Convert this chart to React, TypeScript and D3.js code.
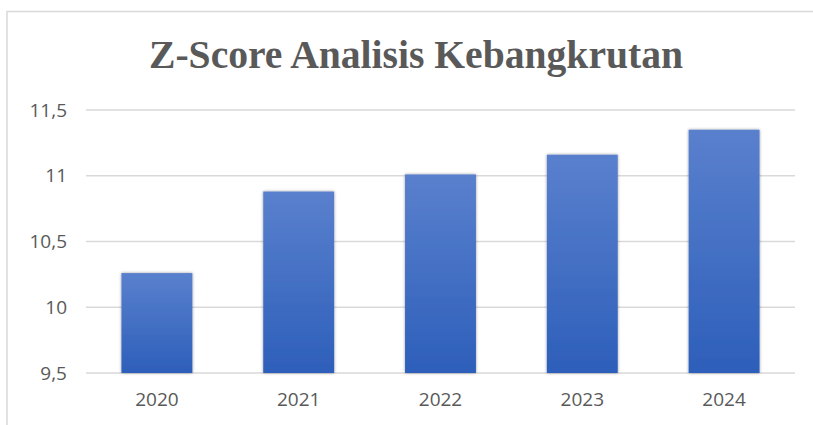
import { useEffect, useRef } from 'react';
import * as d3 from 'd3';

// data
const YEARS = ['2020', '2021', '2022', '2023', '2024'];
const ZSCORE = [10.26, 10.88, 11.01, 11.16, 11.35];
const Y_TICKS = [9.5, 10, 10.5, 11, 11.5];
const TITLE = 'Z-Score Analisis Kebangkrutan';

const W = 813, H = 425;
const margin = { top: 110, right: 18, bottom: 52, left: 86 };
const LABEL_FONT = '"Open Sans", "Liberation Sans", sans-serif';

export default function App() {
  const svgRef = useRef<SVGSVGElement | null>(null);

  useEffect(() => {
    if (!svgRef.current) return;
    const svg = d3.select(svgRef.current);
    svg.selectAll('*').remove();

    const innerW = W - margin.left - margin.right;
    const innerH = H - margin.top - margin.bottom;

    const defs = svg.append('defs');
    const grad = defs.append('linearGradient').attr('id', 'barGrad')
      .attr('x1', '0%').attr('y1', '0%').attr('x2', '0%').attr('y2', '100%');
    grad.append('stop').attr('offset', '0%').attr('stop-color', '#5a80cd');
    grad.append('stop').attr('offset', '100%').attr('stop-color', '#2d5fba');

    const shadow = defs.append('filter').attr('id', 'barShadow')
      .attr('x', '-10%').attr('y', '-10%').attr('width', '120%').attr('height', '120%');
    shadow.append('feDropShadow').attr('dx', 0).attr('dy', 0).attr('stdDeviation', 1.8)
      .attr('flood-color', '#000').attr('flood-opacity', 0.4);

    // background + chart area frame (only left and top edges are in view)
    svg.append('rect').attr('x', 0).attr('y', 0).attr('width', W).attr('height', H).attr('fill', '#fff');
    svg.append('path')
      .attr('d', `M7,${H} L7,11.5 L${W},11.5`)
      .attr('fill', 'none').attr('stroke', '#d9d9d9').attr('stroke-width', 1.5);

    svg.append('text')
      .attr('x', 416).attr('y', 68)
      .attr('text-anchor', 'middle')
      .style('font-family', '"Liberation Serif", "Times New Roman", serif')
      .style('font-weight', 700).style('font-size', '40px').style('fill', '#595959')
      .attr('textLength', 534).attr('lengthAdjust', 'spacingAndGlyphs')
      .text(TITLE);

    const g = svg.append('g').attr('transform', `translate(${margin.left},${margin.top})`);

    const x = d3.scaleBand().domain(YEARS).range([0, innerW]).paddingInner(0.5).paddingOuter(0.25);
    const y = d3.scaleLinear().domain([9.5, 11.5]).range([innerH, 0]);
    const fmt = (d: number) => String(d).replace('.', ',');

    // gridlines
    g.selectAll('line.grid').data(Y_TICKS).enter().append('line')
      .attr('class', 'grid')
      .attr('x1', 0).attr('x2', innerW)
      .attr('y1', d => y(d)).attr('y2', d => y(d))
      .attr('stroke', '#d9d9d9').attr('stroke-width', 1.5);

    // y axis labels
    g.append('g').attr('transform', 'translate(-7,0)')
      .call(d3.axisLeft(y).tickValues(Y_TICKS).tickFormat(d => fmt(+d)).tickSize(0).tickPadding(12))
      .call(ax => ax.select('.domain').remove())
      .call(ax => ax.selectAll('text').style('fill', '#595959').style('font-size', '19px')
        .style('font-family', LABEL_FONT));

    // bars
    g.selectAll('rect.bar').data(ZSCORE).enter().append('rect')
      .attr('class', 'bar')
      .attr('x', (_, i) => x(YEARS[i])!)
      .attr('y', d => y(d))
      .attr('width', x.bandwidth())
      .attr('height', d => y(9.5) - y(d))
      .attr('fill', 'url(#barGrad)')
      .attr('filter', 'url(#barShadow)');

    // x axis labels
    g.append('g').attr('transform', `translate(0,${innerH})`)
      .call(d3.axisBottom(x).tickSize(0).tickPadding(20))
      .call(ax => ax.select('.domain').remove())
      .call(ax => ax.selectAll('text').style('fill', '#595959').style('font-size', '19px')
        .style('font-family', LABEL_FONT));
  }, []);

  return (
    <svg ref={svgRef} width={W} height={H} viewBox={`0 0 ${W} ${H}`}
      style={{ position: 'absolute', left: 0, top: 0, display: 'block' }} />
  );
}
